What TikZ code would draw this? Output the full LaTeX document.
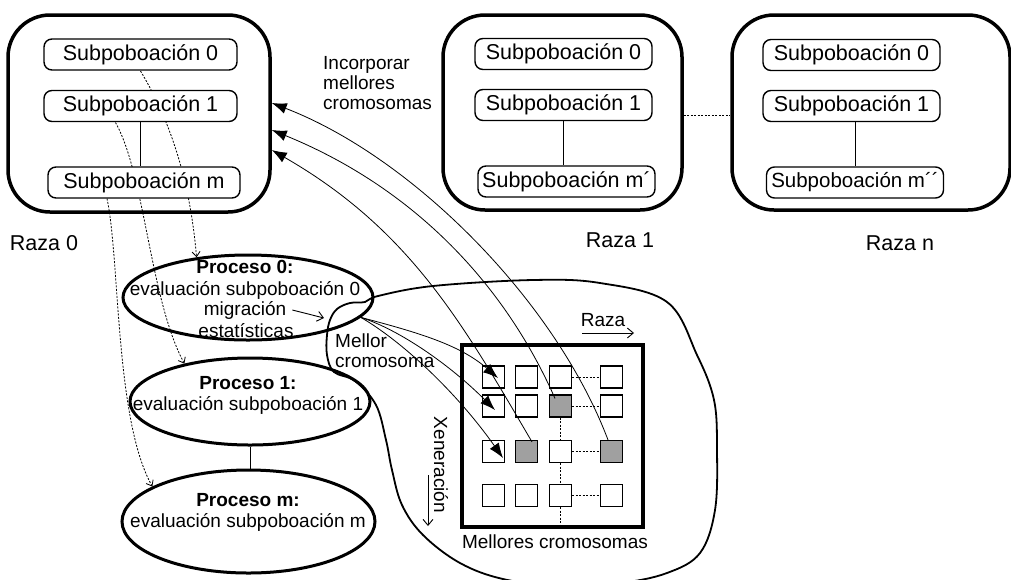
\documentclass[tikz,border=0pt]{standalone}
\usepackage{fontspec}
\setmainfont{Liberation Sans}
\usetikzlibrary{shapes.geometric,arrows.meta,calc}
\begin{document}
\begin{tikzpicture}[x=1pt,y=-1pt,
  raza/.style={draw, line width=3.5pt, rounded corners=42pt, inner sep=0pt},
  sub/.style={draw, line width=1.4pt, rounded corners=8pt, minimum height=31pt, inner sep=0pt, fill=white, font=\fontsize{21.5}{24}\selectfont},
  proc/.style={draw, ellipse, line width=3pt, inner sep=0pt},
  lbl/.style={font=\fontsize{21.5}{24}\selectfont, inner sep=0pt},
  txt/.style={font=\fontsize{19}{20}\selectfont, inner sep=0pt},
  cell/.style={draw, line width=1.2pt, minimum size=22pt, inner sep=0pt},
  greycell/.style={cell, fill={rgb,255:red,160;green,160;blue,160}},
  dsh/.style={line width=0.8pt, dash pattern=on 2pt off 1.5pt},
  dotl/.style={line width=1pt, dash pattern=on 2.2pt off 1.3pt},
  thinline/.style={line width=0.7pt},
  bigarrow/.style={line width=0.8pt, -{Latex[length=15pt,width=11pt]}},
  barb/.style={line width=0.9pt, -{Straight Barb[length=6pt,width=10pt]}},
  smallbarb/.style={-{Straight Barb[length=5pt,width=8pt]}},
]
\useasboundingbox (0,0) rectangle (1011,579);

% ---------- big blob ----------
\draw[line width=1.8pt] plot[smooth cycle, tension=0.6] coordinates {
 (337,309) (350,303) (365,302) (378,296) (433,286) (533,280) (600,283) (667,302)
 (697,355) (714,400) (717,450) (715,510) (700,553) (667,573) (620,583) (560,586)
 (503,579) (460,563) (423,535) (402,505) (392,470) (386,440) (376,405) (355,381)
 (334,372) (327,355) (327,335) (330,320)};

% ---------- Raza boxes ----------
\node[raza, minimum width=262pt, minimum height=197pt] (r0) at (139,113.5) {};
\node[raza, minimum width=239pt, minimum height=195pt] (r1) at (562.5,112.5) {};
\node[raza, minimum width=278pt, minimum height=195pt] (rn) at (871,112.5) {};

% ---------- process ellipses ----------
\node[proc, minimum width=250pt, minimum height=85pt] (p0) at (248,297.5) {};
\node[proc, minimum width=240pt, minimum height=87pt] (p1) at (250,401.5) {};
\node[proc, minimum width=253pt, minimum height=103pt] (pm) at (248.5,521.5) {};

% anchors of the sub boxes (for the dashed curves drawn underneath them)
\coordinate (s00b) at (140.5,71);
\coordinate (s01b) at (115.5,122.5);
\coordinate (s0mb) at (107,198.5);

\draw[dsh, smallbarb] (s00b) .. controls (170,120) and (190,180) .. (p0.142);
\draw[dsh, smallbarb] (s01b) .. controls (145,175) and (150,300) .. (p1.150);
\draw[dsh, smallbarb] (s0mb) .. controls (120,260) and (115,420) .. (pm.160);

% ---------- sub boxes Raza 0 ----------
\node[sub, minimum width=193pt] (s00) at (140.5,54.5) {Subpoboación 0};
\node[sub, minimum width=193pt] (s01) at (140.5,106) {Subpoboación 1};
\node[sub, minimum width=192pt] (s0m) at (144,182.5) {Subpoboación m};
\draw[thinline] (s01.south) -- (s01.south |- s0m.north);

% ---------- sub boxes Raza 1 ----------
\node[sub, minimum width=177pt] (s10) at (563.5,54) {Subpoboación 0};
\node[sub, minimum width=177pt] (s11) at (563.5,105) {Subpoboación 1};
\node[sub, minimum width=177pt] (s1m) at (566.5,181.5) {Subpoboación m´};
\draw[thinline] (s11.south) -- (s11.south |- s1m.north);

% ---------- sub boxes Raza n ----------
\node[sub, minimum width=177pt] (sn0) at (851.5,55) {Subpoboación 0};
\node[sub, minimum width=177pt] (sn1) at (851.5,106) {Subpoboación 1};
\node[sub, minimum width=177pt, font=\fontsize{20.5}{24}\selectfont] (snm) at (855,182.5) {Subpoboación m´´};
\draw[thinline] (snm.north |- sn1.south) -- (snm.north);

\draw[dotl] ([yshift=-2.5pt]r1.east) -- ([yshift=-2.5pt]rn.west);

% ---------- labels ----------
\node[lbl] (l0) at (44,243) {Raza 0};
\node[lbl] (l1) at (620,240) {Raza 1};
\node[lbl] (ln) at (900,243) {Raza n};
\node[txt, align=left, anchor=west] (inc) at (323,83) {Incorporar\\mellores\\cromosomas};

% ---------- process texts ----------
\node[txt] (p0a) at (245,267) {\bfseries Proceso 0:};
\node[txt] (p0b) at (245,290) {evaluación subpoboación 0};
\node[txt] (p0c) at (245,310) {migración};
\node[txt] (p0d) at (246,331) {estatísticas};
\coordinate (migend) at (324,318);
\draw[barb] ([xshift=6pt]p0c.east) -- (migend);

\node[txt] (p1a) at (248,383) {\bfseries Proceso 1:};
\node[txt] (p1b) at (248,405) {evaluación subpoboación 1};
\draw[thinline] (p1.south) -- (p1.south |- pm.north);

\node[txt] (pma) at (248,500) {\bfseries Proceso m:};
\node[txt] (pmb) at (248,522) {evaluación subpoboación m};

\node[txt, align=left, anchor=west] (mc) at (335,351) {Mellor\\cromosoma};

% ---------- grid ----------
\node[draw, line width=4pt, minimum width=181pt, minimum height=182pt, inner sep=0pt] (grid) at (552.5,436) {};

\node[cell] (g11) at (493.5,377) {};
\node[cell] (g12) at (526.5,377) {};
\node[cell] (g13) at (560.5,377) {};
\node[cell] (g14) at (611.5,377) {};
\node[cell] (g21) at (493.5,406) {};
\node[cell] (g22) at (526.5,406) {};
\node[greycell] (g23) at (560.5,406) {};
\node[cell] (g24) at (611.5,406) {};
\node[cell] (g31) at (493.5,451.5) {};
\node[greycell] (g32) at (526.5,451.5) {};
\node[cell] (g33) at (560.5,451.5) {};
\node[greycell] (g34) at (611.5,451.5) {};
\node[cell] (g41) at (493.5,495.5) {};
\node[cell] (g42) at (526.5,495.5) {};
\node[cell] (g43) at (560.5,495.5) {};
\node[cell] (g44) at (611.5,495.5) {};

\draw[dotl] (g13.east) -- (g14.west);
\draw[dotl] (g23.east) -- (g24.west);
\draw[dotl] (g33.east) -- (g34.west);
\draw[dotl] (g43.east) -- (g44.west);
\draw[dotl] (g23.south) -- (g33.north);
\draw[dotl] (g33.south) -- (g43.north);
\draw[dotl] (g43.south) -- (g43.south |- grid.south);

\node[txt] (rz) at (603,320) {Raza};
\coordinate (rza) at (582,333);
\coordinate (rzb) at (634,333);
\draw[barb] (rza) -- (rzb);

\node[txt, rotate=-90] (xen) at (441,465) {Xeneración};
\coordinate (xa) at (428,475);
\coordinate (xb) at (428,526);
\draw[barb] (xa) -- (xb);

\node[txt] (mcs) at (555,542) {Mellores cromosomas};

% ---------- arrows from Proceso 0 to best chromosomes ----------
\draw[bigarrow] (p0.-10) .. controls (420,333) and (460,345) .. ([xshift=4.5pt,yshift=-1pt]g11.center);
\draw[bigarrow] (p0.-10) .. controls (400,330) and (450,365) .. ([xshift=1.5pt,yshift=-4pt]g21.center);
\draw[bigarrow] (p0.-10) .. controls (400,340) and (455,390) .. ([xshift=9.5pt,yshift=-6.5pt]g31.center);

% ---------- incorporating best chromosomes back into Raza 0 ----------
\draw[bigarrow] ([xshift=5.5pt,yshift=-2pt]g32.north) .. controls (464,326) and (411,230) .. ([yshift=-36.5pt]r0.east);
\draw[bigarrow] ([xshift=-5.5pt,yshift=-4pt]g23.north) .. controls (499,272) and (402,183) .. ([yshift=-16.5pt]r0.east);
\draw[bigarrow] ([xshift=-3.5pt]g34.north) .. controls (555,300) and (412,157) .. ([yshift=10.5pt]r0.east);

\end{tikzpicture}
\end{document}
